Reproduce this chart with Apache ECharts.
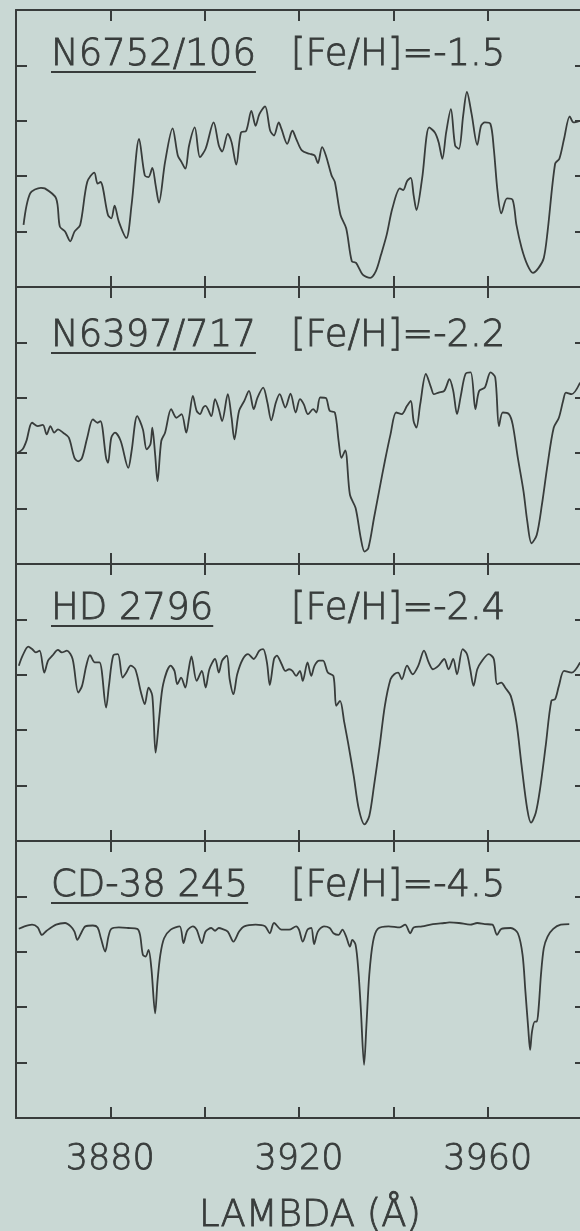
<!DOCTYPE html>
<html><head><meta charset="utf-8">
<script src="https://cdn.jsdelivr.net/npm/echarts@6/dist/echarts.min.js"></script>
<style>html,body{margin:0;padding:0;background:#c9d8d4;} #c{width:580px;height:1231px;}</style>
</head><body><div id="c"></div>
<script>
// ---------- DATA ----------
const starNames = ['N6752/106', 'N6397/717', 'HD 2796', 'CD-38 245'];
const metallicities = ['[Fe/H]=-1.5', '[Fe/H]=-2.2', '[Fe/H]=-2.4', '[Fe/H]=-4.5'];
const xTickLabels = [3880, 3920, 3960];
const xAxisTitle = 'LAMBDA (Å)';

// [wavelength (Å), relative flux (0..1 of panel)]
const n6752 = [[3861.6,0.224],[3863.0,0.338],[3865.3,0.358],[3866.1,0.356],[3868.5,0.320],[3869.3,0.218],[3870.4,0.200],[3871.5,0.165],[3872.4,0.200],[3873.6,0.224],[3875.1,0.379],[3876.6,0.413],[3877.3,0.373],[3877.9,0.379],[3879.5,0.260],[3880.2,0.248],[3880.9,0.294],[3881.8,0.236],[3883.4,0.177],[3884.5,0.296],[3886.1,0.535],[3887.3,0.403],[3888.1,0.397],[3888.9,0.430],[3889.6,0.368],[3890.3,0.305],[3891.6,0.451],[3893.2,0.573],[3894.3,0.475],[3895.1,0.451],[3895.9,0.427],[3896.7,0.511],[3897.9,0.576],[3899.0,0.469],[3900.2,0.499],[3901.9,0.594],[3903.0,0.511],[3903.7,0.489],[3904.9,0.553],[3905.7,0.523],[3906.7,0.442],[3907.7,0.558],[3908.8,0.564],[3909.9,0.636],[3910.8,0.582],[3911.6,0.624],[3912.8,0.652],[3913.9,0.564],[3914.7,0.547],[3915.7,0.594],[3916.3,0.570],[3917.5,0.517],[3918.6,0.564],[3919.4,0.535],[3920.6,0.493],[3922.2,0.481],[3923.3,0.475],[3924.0,0.447],[3924.9,0.505],[3925.7,0.475],[3926.9,0.403],[3927.6,0.379],[3928.8,0.260],[3930.0,0.212],[3931.2,0.093],[3932.1,0.087],[3933.5,0.045],[3935.1,0.033],[3936.3,0.057],[3937.4,0.117],[3938.6,0.189],[3939.8,0.284],[3941.4,0.356],[3942.1,0.350],[3942.9,0.382],[3943.7,0.394],[3944.3,0.332],[3944.9,0.278],[3946.1,0.391],[3947.6,0.576],[3948.8,0.558],[3949.6,0.523],[3950.4,0.463],[3951.2,0.558],[3952.2,0.642],[3953.1,0.511],[3953.9,0.499],[3954.8,0.618],[3955.6,0.704],[3956.6,0.624],[3957.8,0.513],[3958.6,0.582],[3959.4,0.594],[3960.6,0.588],[3961.3,0.499],[3962.1,0.344],[3962.9,0.266],[3964.1,0.320],[3965.3,0.314],[3966.1,0.224],[3967.2,0.141],[3968.4,0.081],[3969.6,0.051],[3970.8,0.069],[3971.9,0.105],[3972.7,0.200],[3974.3,0.445],[3975.2,0.463],[3976.2,0.535],[3977.4,0.616],[3978.2,0.594],[3979.6,0.600]];

const n6397 = [[3860.3,0.401],[3861.4,0.414],[3862.2,0.444],[3863.4,0.510],[3864.6,0.498],[3865.7,0.502],[3866.5,0.468],[3867.3,0.498],[3868.1,0.474],[3868.9,0.486],[3870.0,0.474],[3871.2,0.456],[3872.4,0.383],[3873.2,0.371],[3874.0,0.383],[3875.1,0.456],[3876.3,0.522],[3877.3,0.510],[3877.9,0.516],[3879.1,0.383],[3879.5,0.365],[3880.2,0.456],[3881.0,0.474],[3882.2,0.444],[3883.8,0.347],[3884.5,0.407],[3885.7,0.534],[3886.9,0.486],[3887.7,0.414],[3888.5,0.432],[3888.9,0.492],[3889.5,0.395],[3890.0,0.299],[3890.8,0.444],[3891.6,0.474],[3892.9,0.559],[3894.0,0.528],[3895.1,0.541],[3896.1,0.474],[3896.7,0.528],[3897.5,0.607],[3898.3,0.553],[3899.0,0.541],[3899.7,0.565],[3900.2,0.571],[3901.4,0.534],[3902.2,0.595],[3903.0,0.559],[3903.7,0.516],[3904.9,0.613],[3905.7,0.528],[3906.3,0.450],[3907.3,0.553],[3908.4,0.589],[3909.4,0.625],[3910.4,0.559],[3911.2,0.601],[3912.4,0.637],[3913.3,0.583],[3914.1,0.519],[3915.1,0.583],[3915.9,0.613],[3917.1,0.565],[3918.2,0.615],[3919.3,0.547],[3920.2,0.595],[3921.0,0.577],[3921.9,0.541],[3923.0,0.559],[3923.7,0.547],[3924.5,0.601],[3925.7,0.599],[3926.5,0.553],[3927.6,0.547],[3928.4,0.444],[3929.0,0.383],[3929.8,0.410],[3930.8,0.250],[3932.0,0.202],[3933.1,0.093],[3933.9,0.045],[3934.7,0.057],[3935.9,0.166],[3937.1,0.274],[3938.2,0.371],[3939.4,0.468],[3940.6,0.547],[3941.8,0.541],[3942.9,0.571],[3943.7,0.589],[3944.3,0.516],[3944.9,0.492],[3945.7,0.577],[3946.9,0.686],[3948.0,0.637],[3948.6,0.613],[3949.6,0.619],[3950.8,0.625],[3951.9,0.667],[3952.7,0.625],[3953.5,0.541],[3954.3,0.607],[3955.3,0.686],[3956.4,0.692],[3957.4,0.559],[3958.2,0.625],[3959.4,0.637],[3960.6,0.692],[3961.6,0.674],[3962.4,0.498],[3963.2,0.547],[3964.5,0.541],[3965.3,0.504],[3966.4,0.383],[3967.6,0.262],[3968.4,0.154],[3969.3,0.075],[3970.4,0.105],[3971.5,0.214],[3972.7,0.359],[3974.0,0.492],[3975.1,0.528],[3976.0,0.589],[3976.6,0.619],[3977.8,0.613],[3979.6,0.655]];

const hd2796 = [[3860.6,0.633],[3861.4,0.669],[3862.6,0.702],[3863.4,0.693],[3864.2,0.681],[3865.0,0.687],[3866.0,0.608],[3866.8,0.651],[3867.7,0.669],[3868.9,0.690],[3869.7,0.681],[3870.8,0.687],[3872.0,0.657],[3873.2,0.536],[3874.0,0.560],[3874.9,0.633],[3875.7,0.671],[3876.7,0.645],[3877.7,0.645],[3879.1,0.482],[3879.7,0.560],[3880.6,0.669],[3881.6,0.675],[3882.6,0.590],[3883.4,0.608],[3884.3,0.633],[3885.3,0.620],[3886.5,0.536],[3887.3,0.494],[3888.1,0.554],[3888.9,0.524],[3889.6,0.319],[3890.4,0.452],[3891.2,0.566],[3892.8,0.633],[3893.6,0.614],[3894.2,0.566],[3895.0,0.590],[3895.9,0.554],[3896.5,0.608],[3897.2,0.666],[3898.3,0.578],[3899.4,0.614],[3900.2,0.554],[3901.0,0.620],[3902.2,0.657],[3903.0,0.608],[3903.7,0.651],[3904.7,0.669],[3905.3,0.584],[3906.1,0.530],[3906.9,0.602],[3908.1,0.657],[3909.2,0.675],[3910.4,0.657],[3911.6,0.687],[3912.4,0.693],[3913.2,0.645],[3913.8,0.563],[3914.7,0.657],[3915.3,0.669],[3916.3,0.639],[3917.1,0.614],[3917.9,0.620],[3918.6,0.614],[3919.4,0.596],[3920.2,0.614],[3920.8,0.578],[3921.8,0.645],[3922.6,0.596],[3923.3,0.633],[3924.3,0.651],[3925.1,0.651],[3926.1,0.608],[3927.3,0.596],[3927.9,0.488],[3928.7,0.506],[3929.6,0.428],[3930.4,0.355],[3931.6,0.235],[3932.7,0.114],[3933.9,0.060],[3934.9,0.090],[3935.9,0.199],[3937.1,0.343],[3938.2,0.488],[3939.4,0.584],[3940.2,0.602],[3941.0,0.608],[3941.8,0.584],[3942.9,0.633],[3944.1,0.602],[3945.3,0.633],[3946.5,0.687],[3947.5,0.645],[3948.4,0.620],[3949.6,0.633],[3950.8,0.657],[3951.7,0.620],[3952.7,0.657],[3953.5,0.602],[3954.7,0.693],[3955.6,0.675],[3956.3,0.620],[3957.0,0.560],[3957.8,0.620],[3958.6,0.645],[3960.2,0.675],[3961.3,0.657],[3962.0,0.566],[3962.9,0.572],[3963.7,0.554],[3964.9,0.524],[3966.1,0.428],[3967.2,0.271],[3968.4,0.114],[3969.2,0.066],[3970.2,0.102],[3971.1,0.187],[3972.3,0.343],[3973.5,0.506],[3974.3,0.512],[3975.1,0.560],[3976.2,0.614],[3977.8,0.608],[3979.6,0.645]];

const cd38245 = [[3860.6,0.683],[3861.8,0.692],[3863.4,0.698],[3864.6,0.688],[3865.5,0.661],[3866.5,0.676],[3868.5,0.698],[3870.4,0.704],[3871.6,0.692],[3872.4,0.673],[3873.0,0.643],[3873.8,0.667],[3874.7,0.692],[3876.3,0.695],[3877.3,0.688],[3878.0,0.649],[3878.9,0.601],[3879.6,0.655],[3880.2,0.683],[3881.8,0.688],[3883.8,0.686],[3885.7,0.683],[3886.3,0.661],[3886.9,0.589],[3887.5,0.583],[3888.1,0.607],[3888.7,0.541],[3889.5,0.378],[3890.0,0.493],[3890.6,0.589],[3891.4,0.649],[3892.8,0.680],[3894.7,0.692],[3895.5,0.631],[3896.3,0.676],[3897.5,0.692],[3898.3,0.680],[3899.4,0.631],[3900.2,0.673],[3901.4,0.686],[3902.2,0.676],[3903.0,0.686],[3903.7,0.683],[3904.9,0.673],[3906.1,0.637],[3907.3,0.673],[3908.4,0.692],[3910.8,0.698],[3912.8,0.692],[3913.8,0.667],[3914.7,0.704],[3916.3,0.680],[3917.9,0.680],[3919.4,0.692],[3920.0,0.680],[3920.8,0.637],[3921.8,0.680],[3922.6,0.686],[3923.2,0.628],[3924.0,0.673],[3925.3,0.692],[3926.5,0.686],[3927.3,0.667],[3928.4,0.661],[3929.2,0.680],[3930.0,0.655],[3930.8,0.619],[3931.3,0.643],[3932.0,0.625],[3932.6,0.529],[3933.1,0.396],[3933.8,0.192],[3934.3,0.336],[3934.9,0.517],[3935.7,0.637],[3936.7,0.683],[3939.0,0.692],[3941.4,0.688],[3942.5,0.698],[3943.6,0.667],[3944.3,0.688],[3946.1,0.692],[3948.4,0.700],[3950.8,0.704],[3951.9,0.706],[3953.9,0.704],[3956.3,0.698],[3957.8,0.704],[3959.4,0.700],[3961.0,0.698],[3962.0,0.661],[3962.9,0.683],[3964.9,0.686],[3966.4,0.667],[3967.4,0.589],[3968.0,0.457],[3968.6,0.324],[3969.0,0.246],[3969.4,0.312],[3970.0,0.348],[3970.4,0.348],[3970.8,0.396],[3971.3,0.517],[3971.9,0.613],[3972.7,0.655],[3973.9,0.683],[3975.5,0.698],[3977.3,0.700]];

const spectra = [n6752, n6397, hd2796, cd38245];

// ---------- LAYOUT / STYLE ----------
const ink = '#383c3b';
const plotLeft = 16, plotWidth = 566, firstTop = 10, panelH = 277;
const titleCenterY = [55, 336, 609, 886];
const nameX = 51, fehX = 291;
const fontFam = '"DejaVu Sans"';
const titleFont = '200 37px ' + fontFam;
const textThicken = 0.8;

const chart = echarts.init(document.getElementById('c'), null, {renderer: 'canvas', width: 580, height: 1231});

const grids = [], xAxes = [], yAxes = [], series = [], graphics = [];
const measure = document.createElement('canvas').getContext('2d');
measure.font = titleFont;

spectra.forEach((spec, i) => {
  grids.push({left: plotLeft, width: plotWidth, top: firstTop + i * panelH, height: panelH,
    outerBoundsMode: 'none', containLabel: false});
  const isLast = i === spectra.length - 1;
  const baseX = {
    gridIndex: i, type: 'value', min: 3860, max: 3980, interval: 20,
    axisLine: {onZero: false, lineStyle: {color: ink, width: 2}},
    axisTick: {inside: true, length: 11, lineStyle: {color: ink, width: 2}},
    splitLine: {show: false}
  };
  xAxes.push(Object.assign({}, baseX, {
    position: 'bottom',
    axisLabel: {
      show: isLast, margin: 24, color: ink, fontSize: 35, fontFamily: 'DejaVu Sans', fontWeight: 200,
      textBorderColor: ink, textBorderWidth: textThicken,
      showMinLabel: true, showMaxLabel: true,
      formatter: v => xTickLabels.includes(v) ? String(v) : ''
    },
    name: isLast ? xAxisTitle : '',
    nameLocation: 'middle', nameGap: 80,
    nameTextStyle: {color: ink, fontSize: 37, fontFamily: 'DejaVu Sans', fontWeight: 200,
      textBorderColor: ink, textBorderWidth: textThicken, padding: [0, 0, 0, 22]}
  }));
  xAxes.push(Object.assign({}, baseX, {position: 'top', axisLabel: {show: false}}));
  const baseY = {
    gridIndex: i, type: 'value', min: 0, max: 1, interval: 0.2,
    axisLabel: {show: false}, splitLine: {show: false}
  };
  yAxes.push(Object.assign({}, baseY, {position: 'left',
    axisLine: {show: true, onZero: false, lineStyle: {color: ink, width: 2}},
    axisTick: {show: true, inside: true, length: 11, lineStyle: {color: ink, width: 2}}}));
  yAxes.push(Object.assign({}, baseY, {position: 'right',
    axisLine: {show: false, onZero: false},
    axisTick: {show: true, inside: true, length: 7, lineStyle: {color: ink, width: 2}}}));
  series.push({
    type: 'line', xAxisIndex: 2 * i, yAxisIndex: 2 * i, data: spec,
    showSymbol: false, smooth: 0.3, silent: true,
    lineStyle: {color: ink, width: 1.8}
  });
  const cy = titleCenterY[i];
  const tStyle = {font: titleFont, fill: ink, stroke: ink, lineWidth: textThicken, align: 'left', verticalAlign: 'middle'};
  graphics.push({type: 'text', x: nameX, y: cy, style: Object.assign({text: starNames[i]}, tStyle)});
  graphics.push({type: 'text', x: fehX, y: cy, style: Object.assign({text: metallicities[i]}, tStyle)});
  const w = measure.measureText(starNames[i]).width;
  graphics.push({type: 'line', shape: {x1: nameX, y1: cy + 17, x2: nameX + w, y2: cy + 17},
    style: {stroke: ink, lineWidth: 2}});
});

chart.setOption({
  backgroundColor: '#c9d8d4',
  animation: false,
  grid: grids, xAxis: xAxes, yAxis: yAxes, series: series,
  graphic: graphics
});
</script></body></html>
